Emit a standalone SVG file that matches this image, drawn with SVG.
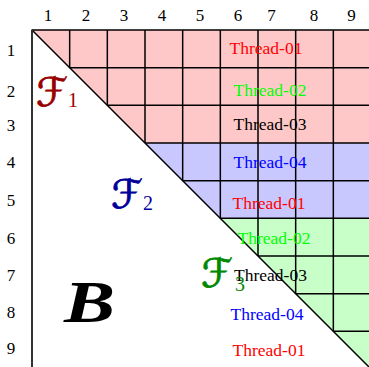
<svg xmlns="http://www.w3.org/2000/svg" width="369" height="367" viewBox="0 0 369 367">
<style>
.num{font-family:"Liberation Serif",serif;font-size:17px;fill:#000;text-anchor:middle}
.th{font-family:"Liberation Serif",serif;font-size:17.5px;text-anchor:middle}
.g{stroke:#000;stroke-width:1.5;fill:none}
.cal{font-family:"DejaVu Serif","DejaVu Sans",serif;font-style:italic;font-size:40px;stroke-width:0.7}
.sub{font-family:"Liberation Serif",serif;font-size:20px}
</style>
<rect width="369" height="367" fill="#fff"/>
<g id="regions">
<polygon id="F1-region" points="32,30 371,30 371,143 145,143" fill="#ffc8c8"/>
<polygon id="F2-region" points="145,143 371,143 371,218.33 220.33,218.33" fill="#c8c8ff"/>
<polygon id="F3-region" points="220.33,218.33 371,218.33 371,369" fill="#c8ffc8"/>
</g>
<g id="connectors" class="g">
<line x1="69.67" y1="67.67" x2="371" y2="67.67"/>
<line x1="107.33" y1="105.33" x2="371" y2="105.33"/>
<line x1="145" y1="143" x2="371" y2="143"/>
<line x1="182.67" y1="180.67" x2="371" y2="180.67"/>
<line x1="220.33" y1="218.33" x2="371" y2="218.33"/>
<line x1="258" y1="256" x2="371" y2="256"/>
<line x1="295.67" y1="293.67" x2="371" y2="293.67"/>
<line x1="333.33" y1="331.33" x2="371" y2="331.33"/>
<line x1="69.67" y1="30" x2="69.67" y2="67.67"/>
<line x1="107.33" y1="30" x2="107.33" y2="105.33"/>
<line x1="145" y1="30" x2="145" y2="143"/>
<line x1="182.67" y1="30" x2="182.67" y2="180.67"/>
<line x1="220.33" y1="30" x2="220.33" y2="218.33"/>
<line x1="258" y1="30" x2="258" y2="256"/>
<line x1="295.67" y1="30" x2="295.67" y2="293.67"/>
<line x1="333.33" y1="30" x2="333.33" y2="331.33"/>
<line x1="32" y1="30" x2="371" y2="30"/>
<line x1="32" y1="30" x2="371" y2="369"/>
<line x1="32" y1="29.5" x2="32" y2="367" stroke="#333" stroke-width="2"/>
</g>
<g id="col-labels">
<text class="num" x="48" y="21">1</text>
<text class="num" x="86" y="21">2</text>
<text class="num" x="124" y="21">3</text>
<text class="num" x="162" y="21">4</text>
<text class="num" x="200" y="21">5</text>
<text class="num" x="238" y="21">6</text>
<text class="num" x="271.5" y="21">7</text>
<text class="num" x="314" y="21">8</text>
<text class="num" x="351.5" y="21">9</text>
</g>
<g id="row-labels">
<text class="num" x="11" y="56">1</text>
<text class="num" x="11" y="97">2</text>
<text class="num" x="11" y="131">3</text>
<text class="num" x="11" y="168">4</text>
<text class="num" x="11" y="206">5</text>
<text class="num" x="11" y="244">6</text>
<text class="num" x="11" y="281">7</text>
<text class="num" x="11" y="318">8</text>
<text class="num" x="11" y="354">9</text>
</g>
<g id="threads">
<text class="th" x="266" y="54" fill="#f00">Thread-01</text>
<text class="th" x="270" y="96" fill="#0f0">Thread-02</text>
<text class="th" x="270" y="130" fill="#000">Thread-03</text>
<text class="th" x="270" y="167.5" fill="#00f">Thread-04</text>
<text class="th" x="269" y="208.5" fill="#f00">Thread-01</text>
<text class="th" x="274" y="243.5" fill="#0f0">Thread-02</text>
<text class="th" x="270.5" y="281" fill="#000">Thread-03</text>
<text class="th" x="267" y="319.5" fill="#00f">Thread-04</text>
<text class="th" x="269" y="356" fill="#f00">Thread-01</text>
</g>
<g id="F1" fill="#990000" stroke="#990000">
<text class="cal" x="36" y="106" textLength="32" lengthAdjust="spacingAndGlyphs">ℱ</text>
<text class="sub" x="68" y="107" stroke="none">1</text>
</g>
<g id="F2" fill="#000099" stroke="#000099">
<text class="cal" x="111" y="208" textLength="32" lengthAdjust="spacingAndGlyphs">ℱ</text>
<text class="sub" x="143" y="210" stroke="none">2</text>
</g>
<g id="F3" fill="#008800" stroke="#008800">
<text class="cal" x="201" y="287" textLength="32" lengthAdjust="spacingAndGlyphs">ℱ</text>
<text class="sub" x="235" y="291" stroke="none">3</text>
</g>
<g id="B">
<text x="64" y="322" font-family="Liberation Serif,serif" font-style="italic" font-weight="bold" font-size="60" textLength="51" lengthAdjust="spacingAndGlyphs">B</text>
</g>
</svg>
